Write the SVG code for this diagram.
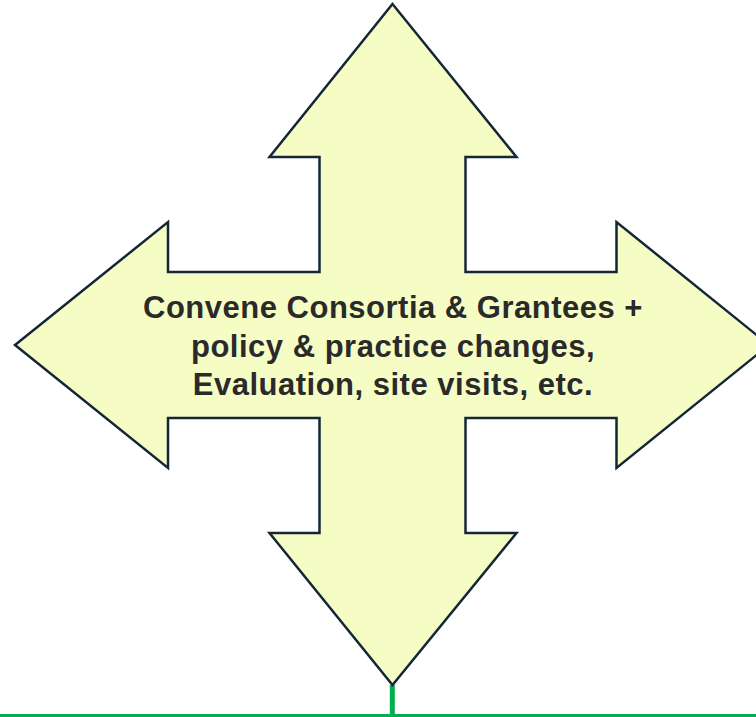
<svg xmlns="http://www.w3.org/2000/svg" width="756" height="717" viewBox="0 0 756 717">
<style>
.arrow{fill:#f6fdc4;stroke:#142638;stroke-width:2.5;stroke-linejoin:miter}
.lbl{font-family:"Liberation Sans",Arial,sans-serif;font-weight:bold;font-size:31px;letter-spacing:0.5px;fill:#2a2a2a;text-anchor:middle}
.conn{stroke:#00b050;fill:none}
</style>
<rect width="756" height="717" fill="#ffffff"/>
<g id="connectors">
<line class="conn" x1="392.3" y1="685" x2="392.3" y2="717" stroke-width="5"/>
<line class="conn" x1="0" y1="715.5" x2="756" y2="715.5" stroke-width="3"/>
</g>
<g id="node-cross">
<polygon class="arrow" points="392.5,4 516.5,157 465.5,157 465.5,272 616.5,272 616.5,222 769,345 616.5,468 616.5,418 465.5,418 465.5,533 516.5,533 392.5,685 269.5,533 319.5,533 319.5,418 168,418 168,468 15,345 168,222 168,272 319.5,272 319.5,157 269.5,157"/>
<text class="lbl" x="393" y="318">Convene Consortia &amp; Grantees +</text>
<text class="lbl" x="393" y="356.5">policy &amp; practice changes,</text>
<text class="lbl" x="393" y="395">Evaluation, site visits, etc.</text>
</g>
</svg>
